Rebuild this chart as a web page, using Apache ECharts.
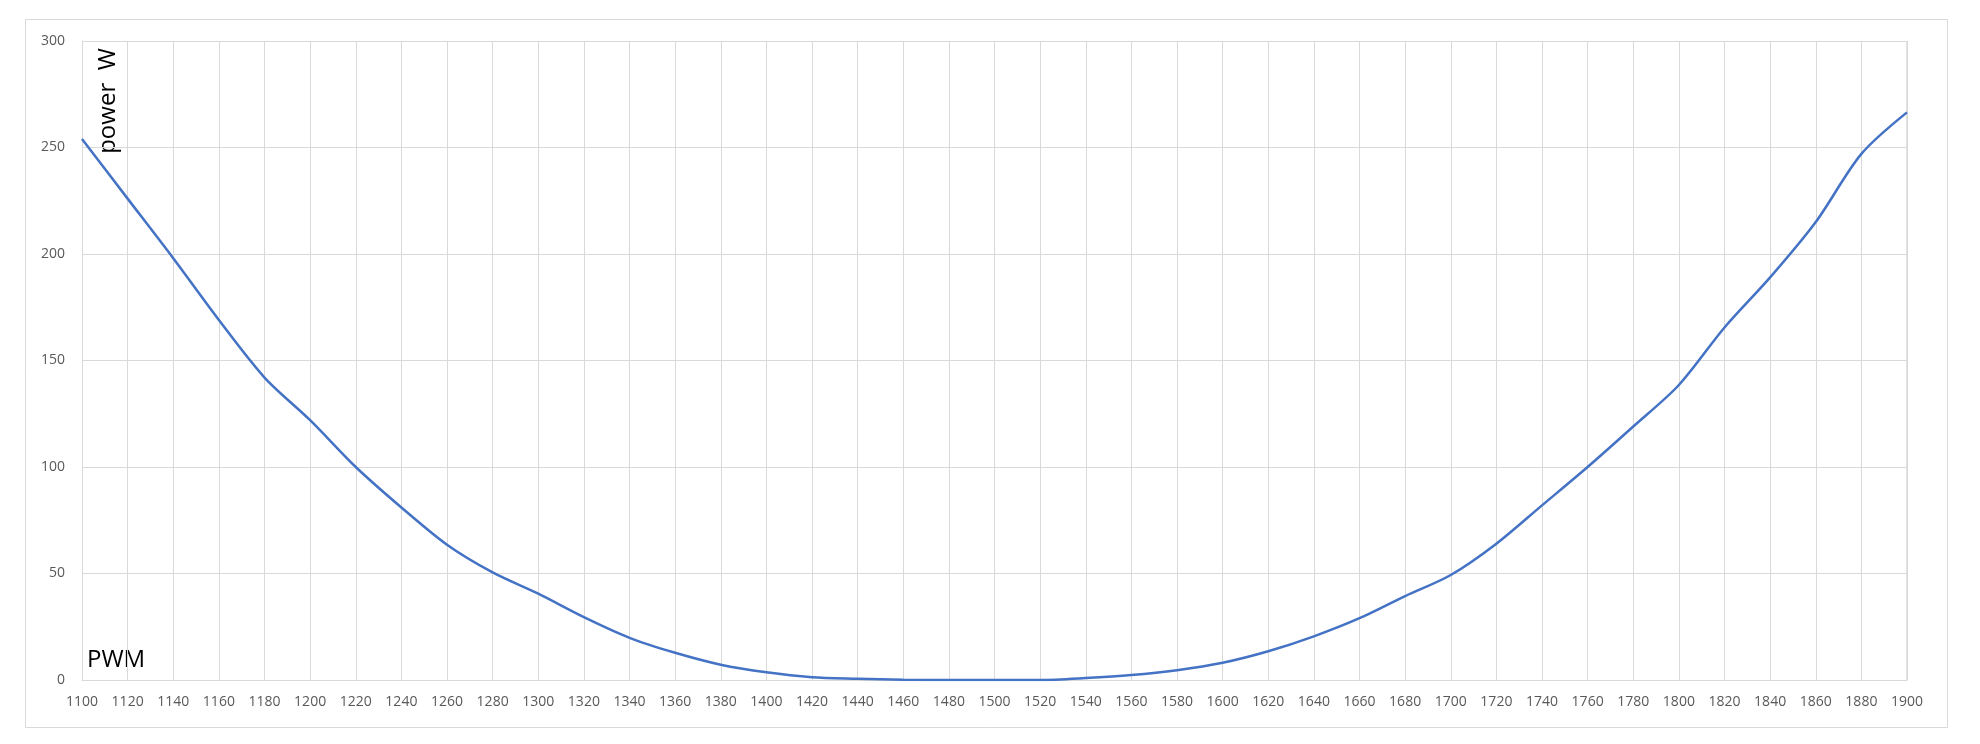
<!DOCTYPE html>
<html>
<head>
<meta charset="utf-8">
<script src="https://cdn.jsdelivr.net/npm/echarts@6/dist/echarts.min.js"></script>
<style>
html,body{margin:0;padding:0;background:#fff;}
#chart{width:1980px;height:744px;}
</style>
</head>
<body>
<div id="chart"></div>
<script>
// PWM values (x) and measured power in W (y)
const pwm = [1100,1120,1140,1160,1180,1200,1220,1240,1260,1280,1300,1320,1340,1360,1380,1400,1420,1440,1460,1480,1500,1520,1540,1560,1580,1600,1620,1640,1660,1680,1700,1720,1740,1760,1780,1800,1820,1840,1860,1880,1900];
const power = [254,226,198,169,142,122,100,81,63.5,50.5,40.5,29.5,19.8,12.8,7.2,3.6,1.3,0.6,0.1,0,0,0,0.9,2.3,4.6,8.1,13.5,20.5,29,39.4,49.3,64,82,100,119,138.5,165.5,189,215,247,266.5];
const xAxisName = 'PWM';
const yAxisName = 'power  W';

const data = pwm.map((x, i) => [x, power[i]]);
const chart = echarts.init(document.getElementById('chart'), null, {renderer: 'canvas'});
const grid = '#d9d9d9';
const labelFont = 'Open Sans, Liberation Sans, sans-serif';
chart.setOption({
  animation: false,
  backgroundColor: '#ffffff',
  grid: {left: 82, right: 73, top: 41, bottom: 64, containLabel: false},
  xAxis: {
    type: 'value', min: 1100, max: 1900, interval: 20,
    axisLine: {show: true, lineStyle: {color: grid, width: 1}},
    axisTick: {show: false},
    splitLine: {show: true, lineStyle: {color: grid, width: 1}},
    axisLabel: {color: '#595959', fontSize: 14, fontFamily: labelFont, margin: 15, showMinLabel: true, showMaxLabel: true,
      formatter: v => String(v)}
  },
  yAxis: {
    type: 'value', min: 0, max: 300, interval: 50,
    axisLine: {show: true, lineStyle: {color: grid, width: 1}},
    axisTick: {show: false},
    splitLine: {show: true, lineStyle: {color: grid, width: 1}},
    axisLabel: {color: '#595959', fontSize: 14, fontFamily: labelFont, margin: 17, formatter: v => String(v)}
  },
  graphic: [
    {type: 'rect', silent: true, z: -1, shape: {x: 25.5, y: 19.5, width: 1922, height: 708}, style: {fill: 'none', stroke: grid, lineWidth: 1}},
    {type: 'rect', silent: true, z: 0, shape: {x: 1907, y: 41, width: 0, height: 639}, style: {fill: 'none', stroke: grid, lineWidth: 1}},
    {type: 'text', x: 108, y: 101, rotation: Math.PI / 2, style: {text: yAxisName, font: '24px "Open Sans", sans-serif', fill: '#000', align: 'center', verticalAlign: 'middle'}},
    {type: 'text', x: 87, y: 660, style: {text: xAxisName, font: '24px "Open Sans", sans-serif', fill: '#000', align: 'left', verticalAlign: 'middle'}}
  ],
  series: [{
    type: 'line', data: data, smooth: 0.3, showSymbol: false,
    lineStyle: {color: '#4472C4', width: 2.5}, itemStyle: {color: '#4472C4'}
  }]
});
</script>
</body>
</html>
